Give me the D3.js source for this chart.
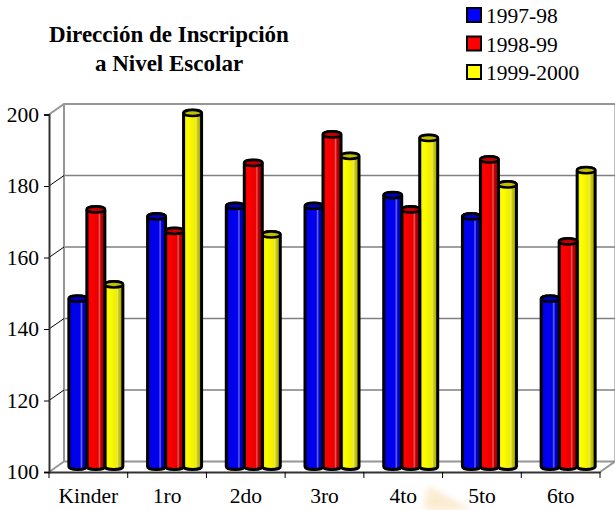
<!DOCTYPE html>
<meta charset="utf-8" />
<script src="https://d3js.org/d3.v7.min.js"></script>
<style>
  body { margin: 0; background: #fff; }
  text { font-family: "Liberation Serif", serif; fill: #000; }
</style>
<body>
  <div id="my_dataviz"></div>
</body>
<script>
  // data
  var grades = ["Kinder", "1ro", "2do", "3ro", "4to", "5to", "6to"];
  var years = ["1997-98", "1998-99", "1999-2000"];
  var v9798 = [147, 170, 173, 173, 176, 170, 147];
  var v9899 = [172, 166, 185, 193, 172, 186, 163];
  var v9900 = [151, 199, 165, 187, 192, 179, 183];
  var yTicks = [100, 120, 140, 160, 180, 200];
  var colors = ["#0000ff", "#ff0000", "#ffff00"];
  var series = [v9798, v9899, v9900];

  var svg = d3.select("#my_dataviz").append("svg")
    .attr("width", 615).attr("height", 510).style("display", "block");

  // cylinder shading, one gradient per colour
  var shades = [
    ["#0000c0", "#0000f0", "#0000e8", "#6868f0", "#0000d8", "#000098"],
    ["#d80000", "#ff0000", "#e80000", "#e85858", "#c00000", "#980000"],
    ["#e0e000", "#ffff00", "#eeee00", "#e8e868", "#c8c800", "#a0a000"]
  ];
  var defs = svg.append("defs");
  shades.forEach(function (s, i) {
    var g = defs.append("linearGradient").attr("id", "cyl" + i);
    var stops = [0, 0.2, 0.62, 0.7, 0.78, 1];
    s.forEach(function (c, j) {
      g.append("stop").attr("offset", stops[j]).attr("stop-color", c);
    });
  });

  // faint smudge under the axis labels in the original scan
  var smudge = defs.append("filter").attr("id", "soft");
  smudge.append("feGaussianBlur").attr("stdDeviation", 3);
  svg.append("path").attr("d", "M428,486L472,510H424Z")
    .attr("fill", "#fbe6c4").attr("opacity", 0.8).attr("filter", "url(#soft)");

  // 3d offset between the front plane and the back wall
  var depthX = 15, depthY = -10.5;

  var xFront = d3.scaleBand().domain(grades).range([49, 600]);
  var yFront = d3.scaleLinear().domain([100, 200]).range([472, 114.5]);
  // bars sit halfway into the depth
  var xMid = d3.scaleBand().domain(grades).range([49 + depthX / 2, 600 + depthX / 2]);
  var yMid = d3.scaleLinear().domain([100, 200]).range([466.5, 109.5]);
  var xInner = d3.scaleBand().domain(d3.range(3)).range([0, 54]);

  // back wall gridlines
  var wall = svg.append("g").attr("stroke", "#808080");
  wall.selectAll("line.grid").data(yTicks.slice(1, 5)).enter().append("line")
    .attr("x1", 49 + depthX).attr("x2", 600 + depthX)
    .attr("y1", function (d) { return yFront(d) + depthY; })
    .attr("y2", function (d) { return yFront(d) + depthY; })
    .attr("stroke-width", 1.5);

  // wall outline in the lighter grey
  var backTop = yFront(200) + depthY, backBottom = yFront(100) + depthY;
  var outline = d3.path();
  outline.moveTo(49, yFront(200));
  outline.lineTo(49 + depthX, backTop);
  outline.lineTo(600 + depthX, backTop);
  outline.moveTo(600, yFront(100));
  outline.lineTo(600 + depthX, backBottom);
  outline.moveTo(49 + depthX, backTop);
  outline.lineTo(49 + depthX, backBottom);
  outline.lineTo(600 + depthX, backBottom);
  outline.moveTo(49, yFront(100));
  outline.lineTo(49 + depthX, backBottom);
  svg.append("path").attr("d", outline.toString())
    .attr("fill", "none").attr("stroke", "#969696").attr("stroke-width", 2);
  svg.append("line").attr("x1", 600 + depthX).attr("x2", 600 + depthX)
    .attr("y1", backTop).attr("y2", backBottom)
    .attr("stroke", "#808080").attr("stroke-width", 1);

  // side wall diagonals
  svg.append("g").selectAll("line").data(yTicks.slice(1, 5)).enter().append("line")
    .attr("x1", 49).attr("x2", 49 + depthX)
    .attr("y1", function (d) { return yFront(d); })
    .attr("y2", function (d) { return yFront(d) + depthY; })
    .attr("stroke", "#000").attr("stroke-width", 1);

  // bars as cylinders
  var ry = 3;
  function cylinder(x0, w, top, bottom) {
    return "M" + x0 + "," + top +
      "V" + bottom +
      "A" + w / 2 + "," + ry + " 0 0 0 " + (x0 + w) + "," + bottom +
      "V" + top +
      "A" + w / 2 + "," + ry + " 0 0 0 " + x0 + "," + top + "Z";
  }
  grades.forEach(function (g, gi) {
    var left = xMid(g) + (xMid.bandwidth() - 54) / 2;
    [2, 1, 0].forEach(function (si) {
      var x0 = left + xInner(si);
      var w = xInner.bandwidth();
      var top = yMid(series[si][gi]);
      svg.append("path")
        .attr("d", cylinder(x0, w, top, yMid(100)))
        .attr("fill", "url(#cyl" + si + ")")
        .attr("stroke", "#000").attr("stroke-width", 3);
      svg.append("ellipse")
        .attr("cx", x0 + w / 2).attr("cy", top)
        .attr("rx", w / 2).attr("ry", ry)
        .attr("fill", d3.color(colors[si]).darker(0.8))
        .attr("stroke", "#000").attr("stroke-width", 2.5);
    });
  });

  // front axes
  var yAxis = svg.append("g").attr("transform", "translate(49,0)")
    .call(d3.axisLeft(yFront).tickValues(yTicks).tickSize(5).tickPadding(5).tickFormat(d3.format("d")));
  var xAxis = svg.append("g").attr("transform", "translate(0," + yFront(100) + ")")
    .call(d3.axisBottom(xFront).tickSize(0).tickPadding(16));
  [yAxis, xAxis].forEach(function (a) {
    a.attr("font-family", null).attr("font-size", null);
    a.selectAll("text").style("font-size", "21.5px");
    a.select(".domain").attr("stroke", "#333").attr("stroke-width", 2);
  });
  svg.append("g").selectAll("line").data(d3.range(8)).enter().append("line")
    .attr("x1", function (i) { return 49 + i * xFront.step(); })
    .attr("x2", function (i) { return 49 + i * xFront.step(); })
    .attr("y1", yFront(100)).attr("y2", yFront(100) + 6)
    .attr("stroke", "#000");

  // title
  svg.append("text").attr("x", 169).attr("y", 42).attr("text-anchor", "middle")
    .attr("font-weight", "bold").style("font-size", "23px").text("Dirección de Inscripción");
  svg.append("text").attr("x", 169).attr("y", 71).attr("text-anchor", "middle")
    .attr("font-weight", "bold").style("font-size", "23px").text("a Nivel Escolar");

  // legend
  var legend = svg.append("g").selectAll("g").data(years).enter().append("g")
    .attr("transform", function (d, i) { return "translate(467," + (8 + i * 28.5) + ")"; });
  legend.append("rect").attr("width", 14).attr("height", 14)
    .attr("fill", function (d, i) { return colors[i]; })
    .attr("stroke", "#000").attr("stroke-width", 2);
  legend.append("text").attr("x", 19).attr("y", 15).style("font-size", "21.5px")
    .text(function (d) { return d; });
</script>
